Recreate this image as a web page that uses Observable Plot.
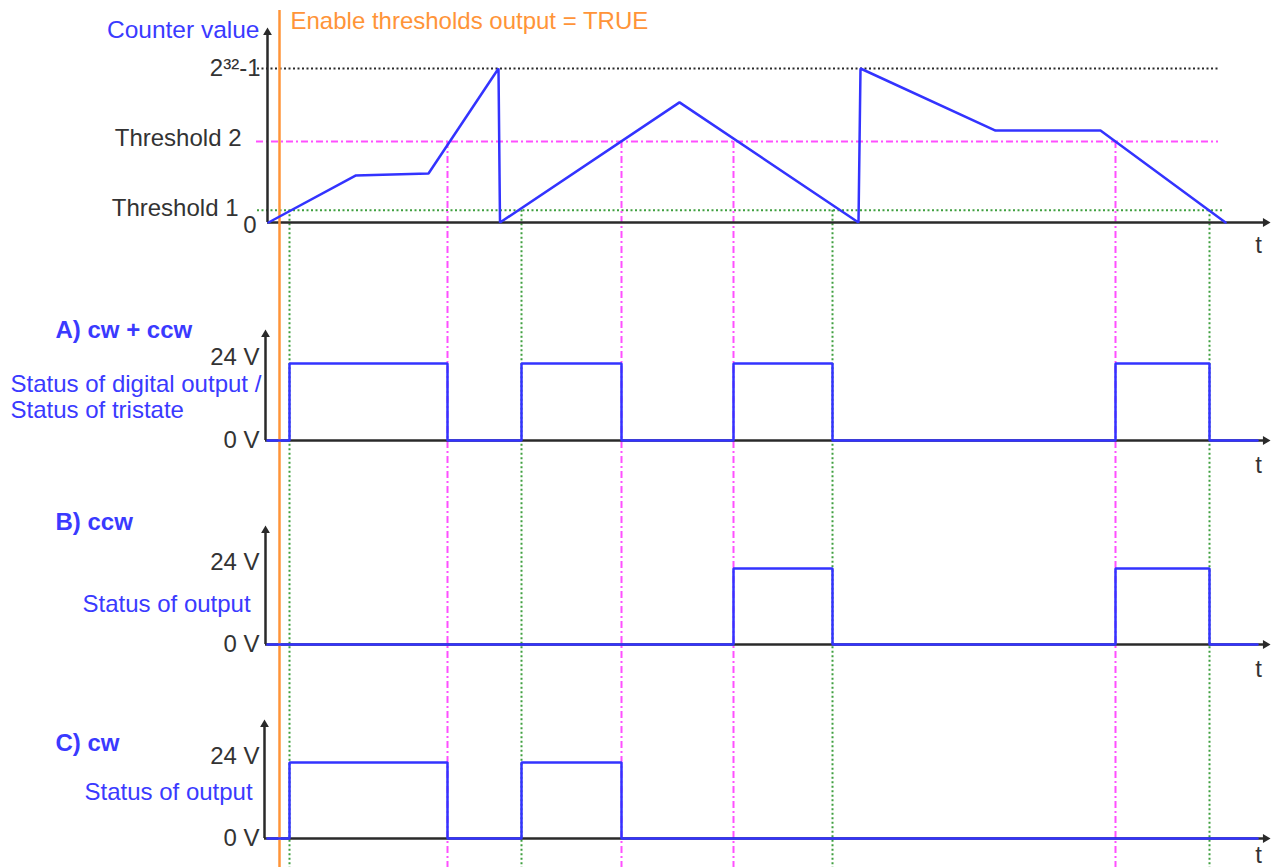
<!DOCTYPE html>
<html>
<head>
<meta charset="utf-8">
<script src="https://cdn.jsdelivr.net/npm/d3@7"></script>
<script src="https://cdn.jsdelivr.net/npm/@observablehq/plot@0.6"></script>
<style>
  html, body { margin: 0; padding: 0; background: #fff; }
  #chart svg { display: block; }
</style>
</head>
<body>
<div id="chart"></div>
<script>
// ---------- data (time in arbitrary units, counter as fraction of 2^32-1) ----------
const counterT = [0.1, 8.8, 16.1, 23.1, 23.25, 41.2, 59.1, 59.3, 72.8, 83.3, 95.8];
const counterV = [0, 0.305, 0.318, 1, 0, 0.78, 0, 1, 0.597, 0.597, 0];
const thresholdNames = ["2³²-1", "Threshold 2", "Threshold 1"];
const thresholdValues = [1, 0.526, 0.08];
const thr1Times = [2.2, 25.4, 56.5, 94.2];
const thr2Times = [18.0, 35.4, 46.6, 84.8];
const enableTime = 1.2;
const highA = [[2.2, 18.0], [25.4, 35.4], [46.6, 56.5], [84.8, 94.2]];
const highB = [[46.6, 56.5], [84.8, 94.2]];
const highC = [[2.2, 18.0], [25.4, 35.4]];
const voltLabels = ["0 V", "24 V"];
const voltValues = [0, 24];
const signalEnd = 99;

// ---------- layout ----------
const BLUE = "#3333ff", TBLUE = "#3a3aff", ORANGE = "#ff9438", MAGENTA = "#ff50ff", GREEN = "#3f9f3f", AX = "#2a2a2a";
const FONT = "Liberation Sans, Arial, Helvetica, sans-serif";
const FS = 24;
const topP = {base: 222, h: 154, max: 1, axisTop: 28, ax: 0, tY: 245};
const panels = [
  {key: "A", base: 440, h: 77, max: 24, axisTop: 330, ax: -0.2, highs: highA, title: "A) cw + ccw", titleY: 330, tY: 465},
  {key: "B", base: 644, h: 76, max: 24, axisTop: 526, ax: -0.2, highs: highB, title: "B) ccw", titleY: 522, tY: 669},
  {key: "C", base: 838, h: 76, max: 24, axisTop: 720, ax: -0.3, highs: highC, title: "C) cw", titleY: 743, tY: 855}
];
const Y = (p, v) => p.base - v / p.max * p.h;

// counter polyline
const counter = counterT.map((t, i) => ({t, y: Y(topP, counterV[i])}));

// signals
function steps(p) {
  const pts = [{t: 0, y: Y(p, 0)}];
  for (const [a, b] of p.highs) {
    pts.push({t: a, y: Y(p, 0)}, {t: a, y: Y(p, 24)}, {t: b, y: Y(p, 24)}, {t: b, y: Y(p, 0)});
  }
  pts.push({t: signalEnd, y: Y(p, 0)});
  return pts.map(d => ({...d, key: p.key}));
}
const signals = panels.flatMap(steps);

const bottomY = 867;
const thr1Y = Y(topP, thresholdValues[2]);
const thr2Y = Y(topP, thresholdValues[1]);
const maxY = Y(topP, thresholdValues[0]);

// axes
const axisPanels = [topP, ...panels];
const yAxes = axisPanels.map(p => ({t: p.ax, y1: p.base, y2: p.axisTop + 6}));
const xAxes = axisPanels.map(p => ({t1: p.ax, t2: 99.6, y: p.base}));
const upArrows = axisPanels.map(p => ({t: p.ax, y: p.axisTop + 4}));
const rightArrows = axisPanels.map(p => ({t: 99.8, y: p.base}));

const textBase = {fontFamily: FONT, lineAnchor: "middle", fontSize: FS};

const chart = Plot.plot({
  width: 1272,
  height: 867,
  margin: 0,
  style: {background: "#fff"},
  x: {domain: [0, 100], range: [267, 1267], axis: null},
  y: {domain: [0, 867], range: [0, 867], axis: null},
  marks: [
    // horizontal reference lines
    Plot.ruleY([maxY], {x1: -1, x2: 95.1, stroke: AX, strokeWidth: 2, strokeDasharray: "2,2.5"}),
    Plot.ruleY([thr2Y], {x1: -1.1, x2: 95.1, stroke: MAGENTA, strokeWidth: 2, strokeDasharray: "7,3,2,3"}),
    Plot.ruleY([thr1Y], {x1: -1, x2: 95.5, stroke: GREEN, strokeWidth: 2, strokeDasharray: "2,2.5"}),
    // vertical guides
    Plot.ruleX(thr1Times, {y1: thr1Y, y2: bottomY, stroke: GREEN, strokeWidth: 2, strokeDasharray: "2,2.5"}),
    Plot.ruleX(thr2Times, {y1: thr2Y, y2: bottomY, stroke: MAGENTA, strokeWidth: 2, strokeDasharray: "7,3,2,3"}),
    // axes
    Plot.ruleX(yAxes, {x: "t", y1: "y1", y2: "y2", stroke: AX, strokeWidth: 2.5}),
    Plot.ruleY(xAxes, {x1: "t1", x2: "t2", y: "y", stroke: AX, strokeWidth: 2.5}),
    Plot.dot(upArrows, {x: "t", y: "y", symbol: "triangle2", r: 4.2, fill: AX, stroke: "none"}),
    Plot.dot(rightArrows, {x: "t", y: "y", symbol: "triangle2", r: 4.2, fill: AX, stroke: "none", rotate: 90}),
    // enable line
    Plot.ruleX([enableTime], {y1: 10, y2: bottomY, stroke: ORANGE, strokeWidth: 2.5}),
    // counter
    Plot.line(counter, {x: "t", y: "y", stroke: BLUE, strokeWidth: 2.5, strokeLinejoin: "miter"}),
    // signals
    Plot.line(signals, {x: "t", y: "y", z: "key", stroke: BLUE, strokeWidth: 2.5, strokeLinejoin: "miter"}),
    // top texts
    Plot.text(["Counter value"], {...textBase, x: -0.8, y: 30, textAnchor: "end", fill: TBLUE, fontSize: 24.5}),
    Plot.text(["Enable thresholds output = TRUE"], {...textBase, x: 2.3, y: 21, textAnchor: "start", fill: ORANGE}),
    Plot.text(thresholdNames, {...textBase, x: [-0.7, -2.6, -2.9], y: [maxY, thr2Y - 3, thr1Y - 2], textAnchor: "end", fill: "#333"}),
    Plot.text(["0"], {...textBase, x: -1.1, y: topP.base + 3, textAnchor: "end", fill: "#333"}),
    Plot.text(axisPanels, {...textBase, text: () => "t", x: 99.1, y: "tY", textAnchor: "middle", fill: "#333"}),
    // panel texts
    Plot.text(panels, {...textBase, text: "title", x: -21.2, y: "titleY", textAnchor: "start", fill: TBLUE, fontWeight: "bold"}),
    Plot.text(panels, {...textBase, text: () => voltLabels[1], x: -0.8, y: p => Y(p, voltValues[1]) - 6, textAnchor: "end", fill: "#333"}),
    Plot.text(panels, {...textBase, text: () => voltLabels[0], x: -0.8, y: p => Y(p, voltValues[0]), textAnchor: "end", fill: "#333"}),
    Plot.text(["Status of digital output /", "Status of tristate"], {...textBase, x: -25.7, y: [384, 410], textAnchor: "start", fill: TBLUE}),
    Plot.text(["Status of output", "Status of output"], {...textBase, x: [-18.5, -18.3], y: [604, 792], textAnchor: "start", fill: TBLUE})
  ]
});
document.getElementById("chart").appendChild(chart);
</script>
</body>
</html>
